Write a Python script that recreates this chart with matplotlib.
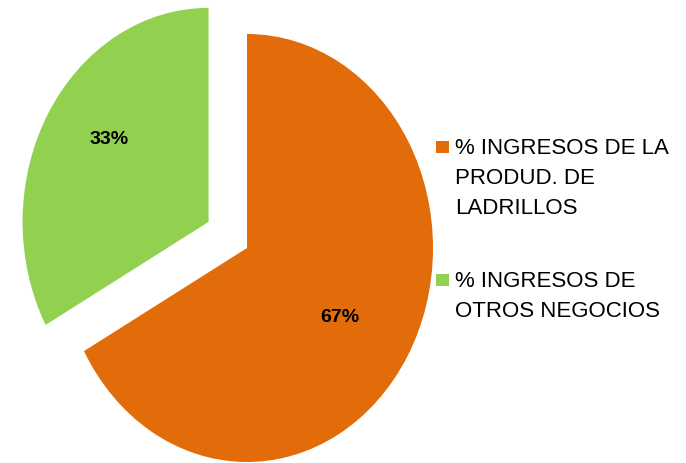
import matplotlib.pyplot as plt
from matplotlib.patches import Rectangle

plt.rcParams['font.family'] = ['Liberation Sans', 'DejaVu Sans']

# data
labels = ["% INGRESOS DE LA\nPRODUD. DE\nLADRILLOS", "% INGRESOS DE\nOTROS NEGOCIOS"]
values = [67, 33]
colors = ["#E36C0A", "#92D050"]
explode = [0.0, 0.24]

W, H = 686, 463
fig = plt.figure(figsize=(W / 100, H / 100), dpi=100)
ax = fig.add_axes([0, 0, 1, 1])

wedges, texts, autotexts = ax.pie(
    values, colors=colors, explode=explode, startangle=90, counterclock=False,
    autopct="%1.0f%%", pctdistance=0.62,
    textprops=dict(fontsize=14, fontweight="bold", color="black"),
)
for w in wedges:
    w.set_clip_on(False)

# stretch the pie vertically (center ~ (247,248) px, rx 186, ry 214)
ax.set_aspect("auto")
ax.set_xlim(-247 / 186, (W - 247) / 186)
ax.set_ylim((248 - H) / 214, 248 / 214)
ax.axis("off")

# small nudges of the percent labels (x, y in data units)
nudge = [(-0.035, -0.01), (0.0, 0.07)]
for t, (dx, dy) in zip(autotexts, nudge):
    x, y = t.get_position()
    t.set_position((x + dx, y + dy))

# legend drawn by hand so the square sits on the first line
entry_y = [147, 280]
for lab, col, yy in zip(labels, colors, entry_y):
    fig.patches.append(Rectangle((436 / W, 1 - (yy + 6) / H), 13 / W, 12 / H,
                                 transform=fig.transFigure, facecolor=col,
                                 edgecolor="none"))
    fig.text(455 / W, 1 - (yy - 9) / H, lab, fontsize=16, color="black",
             va="top", ha="left", linespacing=1.55)

fig.savefig("out.png", dpi=100)
